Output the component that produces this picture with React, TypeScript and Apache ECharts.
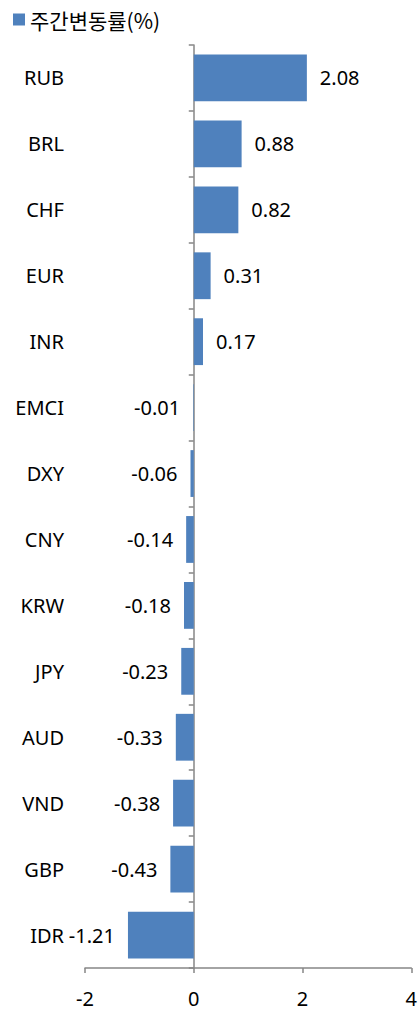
import React, { useEffect, useRef } from "react";
import * as echarts from "echarts";

const categories = ["RUB", "BRL", "CHF", "EUR", "INR", "EMCI", "DXY", "CNY", "KRW", "JPY", "AUD", "VND", "GBP", "IDR"];
const weeklyChange = [2.08, 0.88, 0.82, 0.31, 0.17, -0.01, -0.06, -0.14, -0.18, -0.23, -0.33, -0.38, -0.43, -1.21];
const seriesName = "주간변동률(%)";
const xTicks = { min: -2, max: 4, interval: 2 };

const FONT = "'Noto Sans', 'Noto Sans CJK KR', sans-serif";
const BAR = "#4F81BD";
const AXIS = "#868686";

export default function App() {
  const ref = useRef<HTMLDivElement>(null);
  useEffect(() => {
    if (!ref.current) return;
    const chart = echarts.init(ref.current, undefined, { renderer: "svg" });
    const data = weeklyChange.map((v) => ({
      value: v,
      label: { position: v < 0 ? "left" : "right" },
    }));
    chart.setOption({
      animation: false,
      textStyle: { fontFamily: FONT },
      legend: {
        left: 13,
        top: 9,
        padding: 0,
        icon: "rect",
        itemWidth: 12,
        itemHeight: 12,
        textStyle: { fontSize: 21, color: "#000", fontFamily: "'Noto Sans CJK KR', sans-serif" },
        data: [seriesName],
      },
      grid: { left: 85, right: 7, top: 45, bottom: 43, containLabel: false },
      xAxis: {
        type: "value",
        min: xTicks.min,
        max: xTicks.max,
        interval: xTicks.interval,
        splitLine: { show: false },
        axisLine: { show: true, onZero: false, lineStyle: { color: AXIS, width: 1.5 } },
        axisTick: { show: true, length: 5, lineStyle: { color: AXIS, width: 1.5 } },
        axisLabel: { fontSize: 20, color: "#000", margin: 20, fontFamily: FONT },
      },
      yAxis: [
        {
          type: "category",
          data: categories,
          inverse: true,
          position: "left",
          axisLine: { show: false, onZero: false },
          axisTick: { show: false },
          axisLabel: { fontSize: 20, color: "#000", margin: 21, fontFamily: FONT },
        },
        {
          type: "category",
          data: categories,
          inverse: true,
          position: "left",
          axisLine: { show: true, onZero: true, lineStyle: { color: AXIS, width: 1.5 } },
          axisTick: { show: true, length: 5, lineStyle: { color: AXIS, width: 1.5 } },
          axisLabel: { show: false },
        },
      ],
      series: [
        {
          name: seriesName,
          type: "bar",
          yAxisIndex: 0,
          data,
          barWidth: "71%",
          itemStyle: { color: BAR },
          label: {
            show: true,
            distance: 13,
            fontSize: 20,
            color: "#000",
            fontFamily: FONT,
            formatter: (p: any) => Number(p.value).toFixed(2),
          },
        },
      ],
    });
    return () => chart.dispose();
  }, []);
  return (
    <div
      ref={ref}
      style={{ position: "fixed", left: 0, top: 0, width: 420, height: 1011, background: "#fff" }}
    />
  );
}
